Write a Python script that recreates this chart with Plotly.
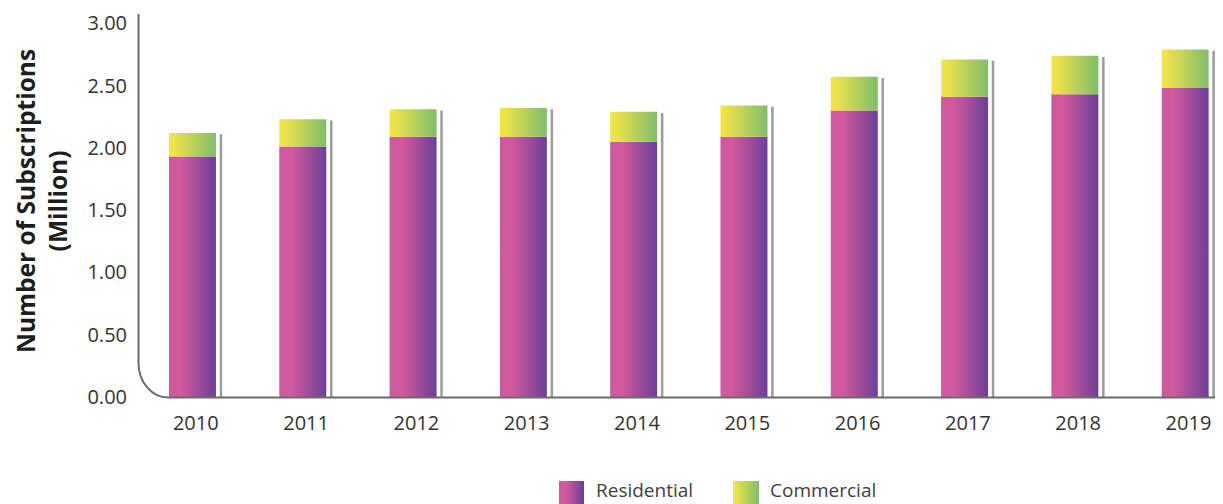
import plotly.graph_objects as go

# ---- data ----
years = ["2010", "2011", "2012", "2013", "2014", "2015", "2016", "2017", "2018", "2019"]
residential = [1.93, 2.01, 2.09, 2.09, 2.05, 2.09, 2.30, 2.41, 2.43, 2.48]
commercial = [0.19, 0.22, 0.22, 0.23, 0.24, 0.25, 0.27, 0.30, 0.31, 0.31]
y_ticks = [0, 0.5, 1.0, 1.5, 2.0, 2.5, 3.0]
series_names = ["Residential", "Commercial"]

# ---- style ----
PW, PH = 1223, 504          # browser window
OFF = 8                      # page body margin
W, H = PW - OFF, PH - OFF    # figure size so it fits exactly
FONT = "Open Sans"
res_scale = [[0, "#cc5aa0"], [0.25, "#d35a9c"], [1, "#6c3f98"]]
com_scale = [[0, "#f3e543"], [0.12, "#ece24b"], [1, "#80bd6c"]]
HALF = 0.213      # half bar width (x units)
SHADOW = 0.258    # shadow line offset from bar centre

fig = go.Figure()

def gradient_rect(x0, x1, y0, y1, scale, xaxis="x", yaxis="y", name=None):
    return go.Scatter(
        x=[x0, x1, x1, x0, x0], y=[y0, y0, y1, y1, y0],
        mode="lines", line=dict(width=0), fill="toself",
        fillcolor=scale[0][1],
        fillgradient=dict(type="horizontal", colorscale=scale),
        xaxis=xaxis, yaxis=yaxis, showlegend=False, hoverinfo="skip", name=name,
    )

# bars
for i, (r, c) in enumerate(zip(residential, commercial)):
    fig.add_trace(gradient_rect(i - HALF, i + HALF, 0, r, res_scale, name=series_names[0]))
    fig.add_trace(gradient_rect(i - HALF, i + HALF, r, r + c, com_scale, name=series_names[1]))

# shadow lines right of each bar
sx, sy = [], []
for i, (r, c) in enumerate(zip(residential, commercial)):
    sx += [i + SHADOW, i + SHADOW, None]
    sy += [0, r + c - 0.01, None]
fig.add_trace(go.Scatter(x=sx, y=sy, mode="lines", line=dict(color="#9c9c9c", width=2.5),
                         showlegend=False, hoverinfo="skip"))

# custom legend (page-pixel overlay axes)
fig.add_trace(gradient_rect(559, 584, 481, 504, res_scale, xaxis="x2", yaxis="y2"))
fig.add_trace(gradient_rect(733, 759, 481, 504, com_scale, xaxis="x2", yaxis="y2"))

annotations = [
    dict(x=594, y=490, xref="x2", yref="y2", text=series_names[0], showarrow=False,
         xanchor="left", yanchor="middle", font=dict(family=FONT, size=19, color="#404040")),
    dict(x=768, y=490, xref="x2", yref="y2", text=series_names[1], showarrow=False,
         xanchor="left", yanchor="middle", font=dict(family=FONT, size=19, color="#404040")),
    dict(x=41, y=201, xref="x2", yref="y2", text="<b>Number of Subscriptions<br>(Million)</b>",
         showarrow=False, textangle=-90, xanchor="center", yanchor="middle",
         font=dict(family=FONT, size=24.5, color="#1e1e1e")),
]

# axis line with rounded corner (page pixels)
k = 0.55
path = (f"M 138.5 14 L 138.5 363 "
        f"C 138.5 {363 + k*34.5} {168 - k*29.5} 397.5 168 397.5 L 1223 397.5")
shapes = [dict(type="path", path=path, xref="x2", yref="y2",
               line=dict(color="#6b6b6b", width=2), layer="below")]

fig.update_layout(
    width=W, height=H, autosize=False,
    margin=dict(l=0, r=0, t=0, b=0, pad=0, autoexpand=False),
    paper_bgcolor="white", plot_bgcolor="rgba(0,0,0,0)",
    showlegend=False,
    font=dict(family=FONT, color="#333333"),
    xaxis=dict(domain=[(138 - OFF) / W, 1], range=[-0.494, 9.343],
               tickvals=[i + 0.03 for i in range(len(years))],
               ticktext=years, showgrid=False, zeroline=False, showline=False, ticks="", automargin=False,
               tickfont=dict(family=FONT, size=20, color="#333333"), ticklabelstandoff=12, fixedrange=True),
    yaxis=dict(domain=[(PH - 397) / H, (PH - 23.3) / H], range=[0, 3], tickvals=y_ticks, tickformat=".2f",
               showgrid=False, zeroline=False, showline=False, ticks="", automargin=False,
               tickfont=dict(family=FONT, size=20, color="#333333"), ticklabelstandoff=10, fixedrange=True),
    xaxis2=dict(domain=[0, 1], range=[OFF, PW], anchor="y2", visible=False, fixedrange=True, automargin=False),
    yaxis2=dict(domain=[0, 1], range=[PH, OFF], anchor="x2", visible=False, fixedrange=True, automargin=False),
    annotations=annotations,
    shapes=shapes,
)

fig.write_html("out.html")
